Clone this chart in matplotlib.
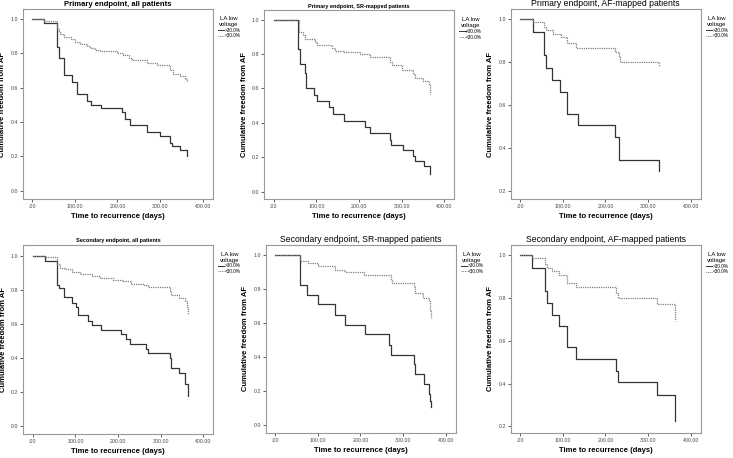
import matplotlib
matplotlib.use("Agg")
import matplotlib.pyplot as plt
from matplotlib.lines import Line2D

plt.rcParams['font.family'] = ['Liberation Sans', 'DejaVu Sans']

# Kaplan-Meier curves: (time, survival) for >30% and <30% LA low voltage
p1_hi_t = [0, 29, 58, 62, 74, 94, 105, 129, 138, 162, 210, 218, 230, 269, 300, 324, 327, 347, 363]
p1_hi_s = [1.0, 0.973, 0.837, 0.77, 0.675, 0.63, 0.565, 0.52, 0.50, 0.48, 0.46, 0.42, 0.38, 0.342, 0.32, 0.28, 0.26, 0.238, 0.20]
p1_lo_t = [0, 27, 58, 62, 66, 74, 91, 101, 113, 129, 136, 148, 160, 199, 214, 226, 234, 269, 292, 324, 331, 347, 359, 363]
p1_lo_s = [1.0, 0.988, 0.94, 0.93, 0.91, 0.895, 0.88, 0.865, 0.855, 0.84, 0.83, 0.82, 0.81, 0.80, 0.79, 0.77, 0.76, 0.74, 0.73, 0.70, 0.68, 0.67, 0.65, 0.63]

p2_hi_t = [0, 58, 62, 74, 76, 94, 101, 129, 140, 164, 213, 226, 273, 276, 302, 327, 331, 352, 366]
p2_hi_s = [1.0, 0.83, 0.74, 0.69, 0.60, 0.56, 0.525, 0.49, 0.45, 0.41, 0.375, 0.34, 0.30, 0.27, 0.24, 0.21, 0.18, 0.15, 0.10]
p2_lo_t = [0, 60, 68, 74, 97, 101, 136, 144, 164, 203, 226, 273, 277, 300, 327, 331, 351, 363, 366]
p2_lo_s = [1.0, 0.93, 0.91, 0.885, 0.87, 0.855, 0.835, 0.82, 0.81, 0.80, 0.78, 0.755, 0.735, 0.71, 0.685, 0.66, 0.645, 0.62, 0.57]

p3_hi_t = [0, 30, 57, 61, 76, 94, 111, 135, 223, 231, 233, 325]
p3_hi_s = [1.0, 0.94, 0.83, 0.77, 0.715, 0.66, 0.555, 0.505, 0.45, 0.395, 0.345, 0.29]
p3_lo_t = [0, 30, 57, 61, 77, 95, 111, 132, 223, 231, 235, 325]
p3_lo_s = [1.0, 0.985, 0.96, 0.945, 0.93, 0.915, 0.885, 0.865, 0.845, 0.82, 0.80, 0.78]

p4_hi_t = [0, 29, 58, 61, 74, 91, 101, 107, 130, 138, 161, 208, 219, 229, 266, 270, 321, 324, 344, 358, 363]
p4_hi_s = [1.0, 0.97, 0.83, 0.81, 0.755, 0.725, 0.70, 0.65, 0.615, 0.595, 0.565, 0.54, 0.51, 0.48, 0.455, 0.43, 0.40, 0.34, 0.31, 0.25, 0.18]
p4_lo_t = [0, 29, 58, 64, 75, 91, 110, 138, 157, 188, 212, 231, 258, 270, 321, 324, 344, 356, 361, 365]
p4_lo_s = [1.0, 0.99, 0.95, 0.93, 0.92, 0.905, 0.89, 0.88, 0.87, 0.86, 0.85, 0.835, 0.83, 0.815, 0.79, 0.77, 0.75, 0.735, 0.70, 0.66]

p5_hi_t = [0, 59, 75, 100, 140, 163, 211, 268, 271, 325, 327, 348, 361, 363, 365]
p5_hi_s = [1.0, 0.825, 0.765, 0.71, 0.65, 0.59, 0.535, 0.47, 0.415, 0.36, 0.30, 0.245, 0.185, 0.145, 0.11]
p5_lo_t = [0, 59, 78, 100, 140, 163, 208, 271, 273, 325, 328, 346, 361, 363, 365]
p5_lo_s = [1.0, 0.965, 0.955, 0.935, 0.915, 0.90, 0.88, 0.855, 0.835, 0.81, 0.78, 0.75, 0.73, 0.68, 0.63]

p6_hi_t = [0, 29, 58, 62, 74, 92, 110, 131, 225, 229, 320, 364]
p6_hi_s = [1.0, 0.94, 0.83, 0.775, 0.72, 0.67, 0.57, 0.515, 0.46, 0.405, 0.345, 0.225]
p6_lo_t = [0, 29, 58, 62, 75, 91, 110, 131, 225, 229, 320, 364]
p6_lo_s = [1.0, 0.985, 0.96, 0.94, 0.925, 0.905, 0.87, 0.85, 0.825, 0.80, 0.77, 0.69]

titles = ["Primary endpoint, all patients", "Primary endpoint, SR-mapped patients",
          "Primary endpoint, AF-mapped patients", "Secondary endpoint, all patients",
          "Secondary endpoint, SR-mapped patients", "Secondary endpoint, AF-mapped patients"]
legend_labels = [">30.0%", "<30.0%"]
x_ticks = [0, 100, 200, 300, 400]
x_ticklabels = [".00", "100.00", "200.00", "300.00", "400.00"]

curves = [(p1_hi_t, p1_hi_s, p1_lo_t, p1_lo_s), (p2_hi_t, p2_hi_s, p2_lo_t, p2_lo_s),
          (p3_hi_t, p3_hi_s, p3_lo_t, p3_lo_s), (p4_hi_t, p4_hi_s, p4_lo_t, p4_lo_s),
          (p5_hi_t, p5_hi_s, p5_lo_t, p5_lo_s), (p6_hi_t, p6_hi_s, p6_lo_t, p6_lo_s)]

# layout (figure fractions), title style, y-range per panel
positions = [(0.031, 0.565, 0.259, 0.415), (0.3606, 0.5655, 0.259, 0.412), (0.6967, 0.565, 0.259, 0.415),
             (0.0318, 0.0524, 0.259, 0.4133), (0.3625, 0.0546, 0.259, 0.4108), (0.6967, 0.0546, 0.259, 0.4105)]
title_style = [(5.5, 'bold'), (4.0, 'bold'), (6.2, 'normal'), (4.0, 'bold'), (6.2, 'normal'), (6.2, 'normal')]
ylims = [(-0.048, 1.055), (-0.0425, 1.054), (0.161, 1.044), (-0.045, 1.064), (-0.045, 1.06), (0.169, 1.047)]

DARK = '#333333'
LIGHT = '#808080'

fig = plt.figure(figsize=(7.33, 4.58), dpi=100)

for i, (ht, hs, lt, ls) in enumerate(curves):
    ax = fig.add_axes(positions[i])
    ax.step(ht, hs, where='post', color=DARK, lw=0.9)
    ax.step(lt, ls, where='post', color=LIGHT, lw=0.9, linestyle=(0, (1, 0.8)))
    ax.set_xlim(-22, 423)
    ax.set_ylim(*ylims[i])
    ax.set_xticks(x_ticks)
    ax.set_xticklabels(x_ticklabels)
    lo = 0.2 if ylims[i][0] > 0.1 else 0.0
    yt = [round(lo + 0.2 * k, 1) for k in range(int(round((1.0 - lo) / 0.2)) + 1)]
    ax.set_yticks(yt)
    ax.set_yticklabels([f"{v:.1f}" for v in yt])
    ax.tick_params(labelsize=3.8, length=2, width=0.6, pad=1.5, colors='#444444')
    for sp in ax.spines.values():
        sp.set_color('#999999')
        sp.set_linewidth(0.8)
    ax.set_xlabel("Time to recurrence (days)", fontsize=5.5, fontweight='bold', labelpad=3)
    ax.set_ylabel("Cumulative freedom from AF", fontsize=5.5, fontweight='bold', labelpad=3)
    fs, fw = title_style[i]
    ax.set_title(titles[i], fontsize=fs, fontweight=fw, pad=2)

    handles = [Line2D([], [], color=DARK, lw=0.7),
               Line2D([], [], color=LIGHT, lw=0.7, linestyle=(0, (1, 0.8)))]
    leg = ax.legend(handles, legend_labels, title="LA low\nvoltage", loc='upper left',
                    bbox_to_anchor=(1.01, 0.98), frameon=False, fontsize=3.4,
                    title_fontsize=4.3, handlelength=1.3, handletextpad=0.1,
                    labelspacing=0.15, borderaxespad=0.3)
    leg.get_title().set_multialignment('center')

fig.savefig("out.png", dpi=100)
